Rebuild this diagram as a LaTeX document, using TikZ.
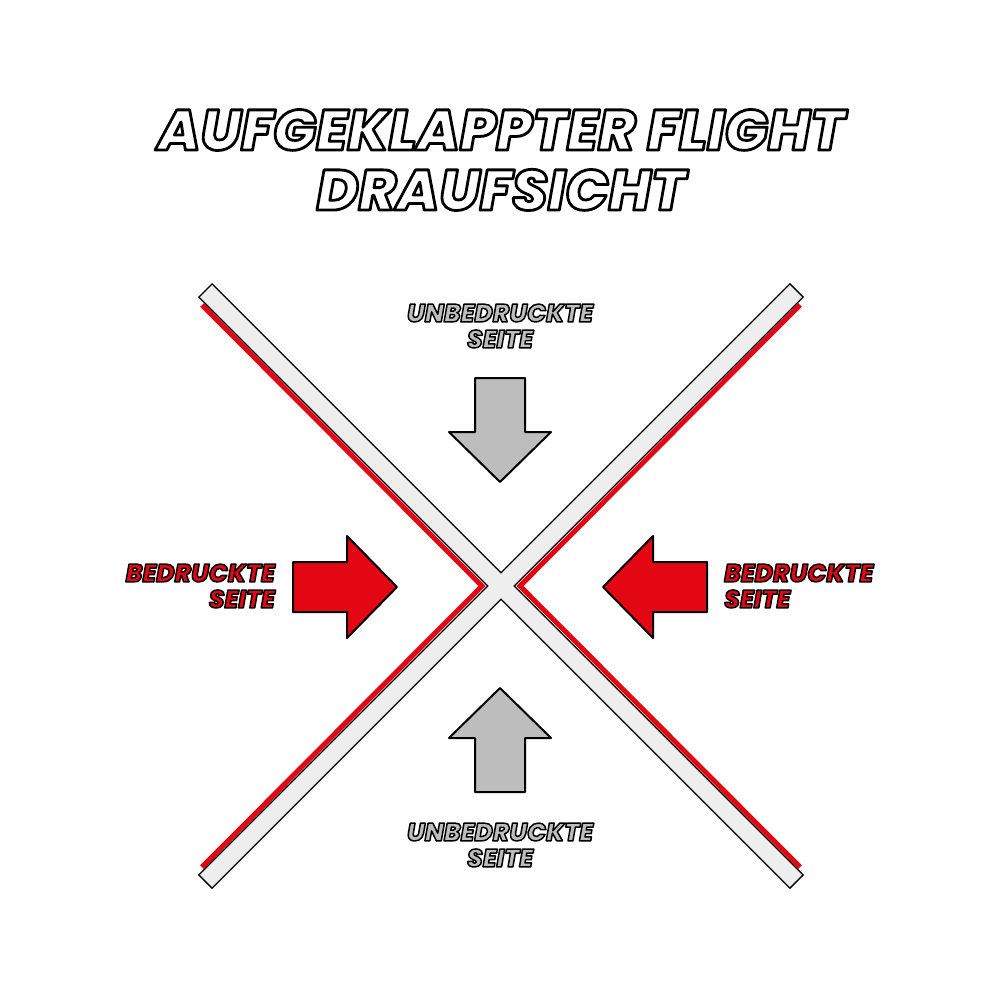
\documentclass[tikz,border=0pt]{standalone}
\usepackage{fontspec}
\setmainfont{Poppins}[BoldItalicFont={Poppins ExtraBold Italic}]
\usetikzlibrary{positioning}
\definecolor{flred}{RGB}{227,6,19}
\definecolor{flgray}{RGB}{189,189,189}
\definecolor{flbar}{RGB}{238,238,238}
% outlined letters: fill in the text colour, black stroke round them
\newcommand\strokedtext[2]{\special{pdf:code 2 Tr #1 w 1 j 0 G}#2\special{pdf:code 0 Tr}}

\begin{document}
\begin{tikzpicture}[x=1pt, y=-1pt,
  bar/.style = {line width=20pt, black},
  barfill/.style = {line width=17pt, flbar, shorten <=1.5pt, shorten >=1.5pt},
  redline/.style = {line width=5pt, flred, line join=miter},
  printed/.style = {fill=flred, draw=black, line width=2pt, line join=round},
  blank/.style = {fill=flgray, draw=black, line width=2pt, line join=round},
  blockarrow/.pic = {\draw[pic actions] (0,0) -- (-50,-51) -- (-50,-25) -- (-104,-25)
      -- (-104,25) -- (-50,25) -- (-50,51) -- cycle;},
  heading/.style = {font=\fontsize{57}{60}\selectfont\bfseries\itshape, align=center,
      inner sep=0pt, text=white},
  side/.style = {font=\fontsize{25}{26}\selectfont\bfseries\itshape, inner sep=0pt}]
\useasboundingbox (0,0) rectangle (1000,1000);

% title
\node (head) [heading] at (501,160)
  {\strokedtext{2.8}{AUFGEKLAPPTER FLIGHT}\\\strokedtext{2.8}{DRAUFSICHT}};

% the two bars of the flight
\coordinate (tl) at (205,290);
\coordinate (tr) at (797,290);
\coordinate (bl) at (205,882);
\coordinate (br) at (797,882);
\coordinate (lk) at (482,586);
\coordinate (rk) at (520,586);
\draw[redline] (202,305) -- (lk) -- (202,867);
\draw[redline] (800,305) -- (rk) -- (800,867);
\draw[bar] (tl) -- (br);
\draw[bar] (tr) -- (bl);
\draw[barfill] (tl) -- (br);
\draw[barfill] (tr) -- (bl);

% arrows
\pic[blank, rotate=-90] at (500,482) {blockarrow};
\pic[blank, rotate=90] at (500,688) {blockarrow};
\pic[printed] at (397,587) {blockarrow};
\pic[printed, rotate=180] at (603,587) {blockarrow};

% labels
\node (topnote) [side, text=flgray, align=center] at (500,326)
  {\strokedtext{1.5}{UNBEDRUCKTE}\\\strokedtext{1.5}{SEITE}};
\node (botnote) [side, text=flgray, align=center] at (500,845)
  {\strokedtext{1.5}{UNBEDRUCKTE}\\\strokedtext{1.5}{SEITE}};
\node (leftnote) [side, text=flred, align=right, anchor=east] at (275,586)
  {\strokedtext{1.5}{BEDRUCKTE}\\\strokedtext{1.5}{SEITE}};
\node (rightnote) [side, text=flred, align=left, anchor=west] at (724,586)
  {\strokedtext{1.5}{BEDRUCKTE}\\\strokedtext{1.5}{SEITE}};
\end{tikzpicture}
\end{document}
